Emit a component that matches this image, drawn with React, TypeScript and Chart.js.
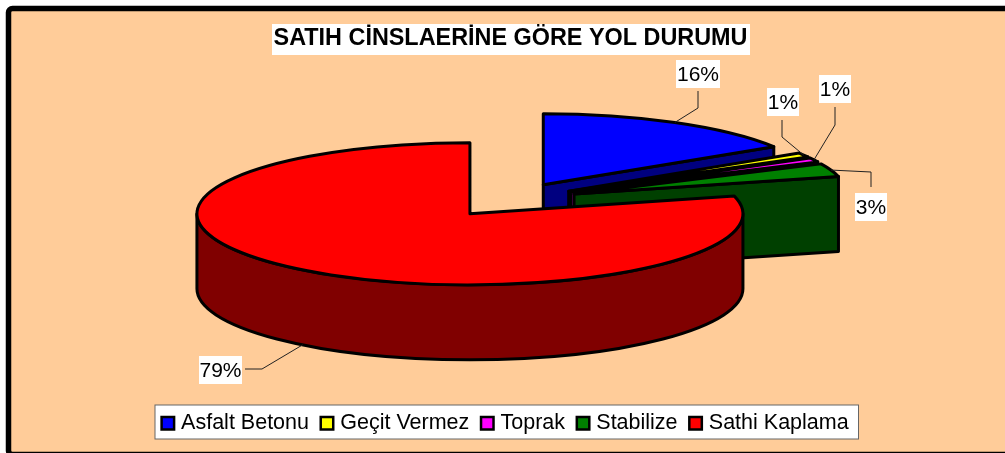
import React, { useEffect, useRef } from "react";
import { Chart, registerables } from "chart.js";

Chart.register(...registerables);

const categories = ["Asfalt Betonu", "Geçit Vermez", "Toprak", "Stabilize", "Sathi Kaplama"];
const percents = [16, 1, 1, 3, 79];
const topColors = ["#0000FF", "#FFFF00", "#FF00FF", "#008000", "#FF0000"];
const wallColors = ["#000080", "#808000", "#800080", "#004000", "#800000"];
const titleText = "SATIH CİNSLAERİNE GÖRE YOL DURUMU";

const FONT = '"Liberation Sans", Arial, sans-serif';
const CX = 511;
const CY = 200;
const RADIUS = 273;
const SQUISH = 0.26;
const EXPLODE = 67;
const DEPTH = 75;
const OUTLINE = 3;

// white label box and leader elbow for each slice
const labelBoxes = [
  { l: 676, t: 60, r: 720, b: 88, from: [698, 91], elbow: [698, 108] },
  { l: 767, t: 88, r: 799, b: 116, from: [782, 120], elbow: [782, 137] },
  { l: 819, t: 75, r: 851, b: 103, from: [835, 107], elbow: [835, 125] },
  { l: 855, t: 193, r: 887, b: 221, from: [871, 187], elbow: [871, 172] },
  { l: 199, t: 356, r: 242, b: 384, from: [245, 369], elbow: [262, 369] },
];

const geometry = (arc: any) => {
  const mid = (arc.startAngle + arc.endAngle) / 2;
  return {
    x: CX + Math.cos(mid) * EXPLODE,
    y: CY + Math.sin(mid) * EXPLODE * SQUISH,
    a: arc.outerRadius,
    b: arc.outerRadius * SQUISH,
    s: arc.startAngle,
    e: arc.endAngle,
    mid,
  };
};

const paint = (ctx: CanvasRenderingContext2D, fill: string) => {
  ctx.fillStyle = fill;
  ctx.fill();
  ctx.strokeStyle = "#000";
  ctx.lineWidth = OUTLINE;
  ctx.lineJoin = "round";
  ctx.stroke();
};

const cutWall = (ctx: CanvasRenderingContext2D, g: any, angle: number, fill: string) => {
  const px = g.x + Math.cos(angle) * g.a;
  const py = g.y + Math.sin(angle) * g.b;
  ctx.beginPath();
  ctx.moveTo(g.x, g.y);
  ctx.lineTo(px, py);
  ctx.lineTo(px, py + DEPTH);
  ctx.lineTo(g.x, g.y + DEPTH);
  ctx.closePath();
  paint(ctx, fill);
};

const pie3d = {
  id: "pie3d",
  afterLayout(chart: any) {
    chart.legend.left -= 6;
    chart.legend.right -= 6;
  },
  beforeDraw(chart: any) {
    const ctx: CanvasRenderingContext2D = chart.ctx;
    ctx.save();
    ctx.beginPath();
    ctx.roundRect(8.5, 8.5, 1040, 446, 4);
    ctx.fillStyle = "#FFCC99";
    ctx.fill();
    ctx.strokeStyle = "#000";
    ctx.lineWidth = 5.5;
    ctx.stroke();
    // title plate
    ctx.fillStyle = "#FFF";
    ctx.fillRect(272, 24, 478, 31);
    // legend plate
    ctx.fillRect(155, 405, 703.5, 34);
    ctx.strokeStyle = "#666";
    ctx.lineWidth = 1;
    ctx.strokeRect(155, 405, 703.5, 34);
    ctx.restore();
  },
  beforeDatasetDraw(chart: any, args: any) {
    const ctx: CanvasRenderingContext2D = chart.ctx;
    const arcs = args.meta.data;
    arcs.forEach((arc: any, i: number) => {
      const g = geometry(arc);
      ctx.save();
      // walls
      if (Math.cos(g.s) < -1e-6) cutWall(ctx, g, g.s, wallColors[i]);
      if (Math.cos(g.e) > 1e-6) cutWall(ctx, g, g.e, wallColors[i]);
      const w0 = Math.max(g.s, 0);
      const w1 = Math.min(g.e, Math.PI);
      if (w1 > w0) {
        ctx.beginPath();
        ctx.ellipse(g.x, g.y, g.a, g.b, 0, w0, w1);
        ctx.ellipse(g.x, g.y + DEPTH, g.a, g.b, 0, w1, w0, true);
        ctx.closePath();
        paint(ctx, wallColors[i]);
      }
      // top face, drawn by the arc element itself
      ctx.save();
      ctx.translate(g.x, g.y);
      ctx.scale(1, SQUISH);
      ctx.translate(-arc.x, -arc.y);
      arc.draw(ctx);
      ctx.restore();
      ctx.beginPath();
      ctx.moveTo(g.x, g.y);
      ctx.ellipse(g.x, g.y, g.a, g.b, 0, g.s, g.e);
      ctx.closePath();
      ctx.strokeStyle = "#000";
      ctx.lineWidth = OUTLINE;
      ctx.lineJoin = "round";
      ctx.stroke();
      ctx.restore();
    });
    return false;
  },
  afterDatasetsDraw(chart: any) {
    const ctx: CanvasRenderingContext2D = chart.ctx;
    const arcs = chart.getDatasetMeta(0).data;
    ctx.save();
    arcs.forEach((arc: any, i: number) => {
      const g = geometry(arc);
      const box = labelBoxes[i];
      const front = Math.sin(g.mid) > 0 ? DEPTH : 0;
      ctx.beginPath();
      ctx.moveTo(box.from[0], box.from[1]);
      ctx.lineTo(box.elbow[0], box.elbow[1]);
      ctx.lineTo(g.x + Math.cos(g.mid) * g.a, g.y + Math.sin(g.mid) * g.b + front);
      ctx.strokeStyle = "#222";
      ctx.lineWidth = 1;
      ctx.stroke();
      ctx.fillStyle = "#FFF";
      ctx.fillRect(box.l, box.t, box.r - box.l, box.b - box.t);
      ctx.fillStyle = "#000";
      ctx.font = `21px ${FONT}`;
      ctx.textAlign = "center";
      ctx.textBaseline = "middle";
      ctx.fillText(`${percents[i]}%`, (box.l + box.r) / 2, (box.t + box.b) / 2 + 1);
    });
    ctx.restore();
  },
  afterDraw(chart: any) {
    const ctx: CanvasRenderingContext2D = chart.ctx;
    ctx.save();
    chart.legend.legendHitBoxes.forEach((hb: any, i: number) => {
      const y = hb.top + hb.height / 2 - 7.5;
      ctx.fillStyle = topColors[i];
      ctx.fillRect(hb.left + 1.25, y + 1.25, 12.5, 12.5);
      ctx.strokeStyle = "#000";
      ctx.lineWidth = 2.5;
      ctx.strokeRect(hb.left + 1.25, y + 1.25, 12.5, 12.5);
    });
    ctx.restore();
  },
};

export default function App() {
  const ref = useRef<HTMLCanvasElement>(null);
  useEffect(() => {
    const chart = new Chart(ref.current!, {
      type: "pie",
      data: {
        labels: categories,
        datasets: [{ data: percents, backgroundColor: topColors, borderWidth: 0 }],
      },
      options: {
        animation: false,
        responsive: false,
        radius: RADIUS,
        layout: { padding: { left: 16, right: 0, top: 0, bottom: 9 } },
        plugins: {
          tooltip: { enabled: false },
          title: {
            display: true,
            text: titleText,
            color: "#000",
            font: { family: FONT, size: 23.4, weight: "bold" },
            padding: { top: 25, bottom: 0 },
          },
          legend: {
            display: true,
            position: "bottom",
            labels: {
              boxWidth: 10,
              padding: 10.5,
              font: { family: FONT, size: 21.5 },
              color: "#000",
              generateLabels: () =>
                categories.map((text, i) => ({
                  text,
                  index: i,
                  hidden: false,
                  fillStyle: "rgba(0,0,0,0)",
                  strokeStyle: "rgba(0,0,0,0)",
                  lineWidth: 0,
                  fontColor: "#000",
                })),
            },
          },
        },
      } as any,
      plugins: [pie3d as any],
    });
    return () => chart.destroy();
  }, []);
  return (
    <canvas
      ref={ref}
      width={1005}
      height={453}
      style={{ position: "fixed", left: 0, top: 0, display: "block" }}
    />
  );
}
